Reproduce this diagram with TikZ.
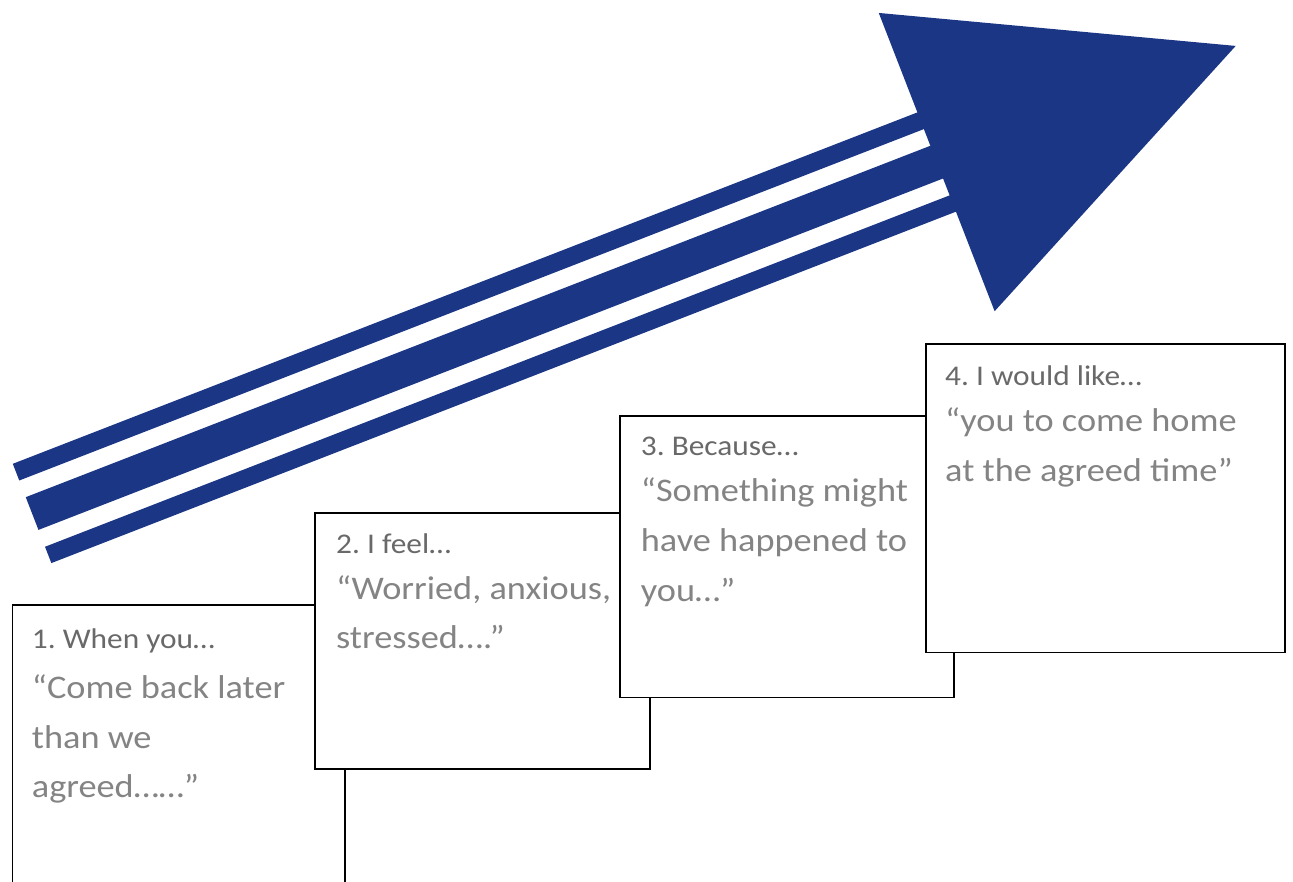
\documentclass[tikz,border=0pt]{standalone}
\usepackage{fontspec}
\setmainfont{Carlito}[FakeStretch=1.1]
\usetikzlibrary{calc}
\definecolor{arrowblue}{RGB}{27,54,133}
\definecolor{headgray}{RGB}{105,105,105}
\definecolor{bodygray}{RGB}{132,132,132}
\begin{document}
\frenchspacing
\begin{tikzpicture}[x=1pt,y=-1pt,
  box/.style={draw=black, line width=1.6pt, fill=white, anchor=north west, inner sep=0pt},
  head/.style={anchor=base west, inner sep=0pt, text=headgray, font=\fontsize{28.5}{32}\selectfont},
  body/.style={anchor=base west, inner sep=0pt, text=bodygray, font=\fontsize{33}{36}\selectfont},
  stripe/.style={fill=arrowblue, draw=none}
]
\clip (0,0) rectangle (1293,881);
\path[use as bounding box] (0,0) rectangle (1293,881);

% arrow
\begin{scope}[shift={(177.5,457)}, rotate=21.23]
  \path[stripe] (-156,-53.3) rectangle (815,-35.4);
  \path[stripe] (-156,-17.5) rectangle (815,17.6);
  \path[stripe] (-156,35.7) rectangle (815,53.2);
  \path[stripe] (814.5,-160) -- (1135.3,0) -- (814.5,160) -- cycle;
\end{scope}

% box 1
\node[box, minimum width=332.6pt, minimum height=300pt] (b1) at (11.7,604.3) {};
\node[head] (h1) at ($(b1.north west)+(20,44)$) {1. When you…};
\node[body] (t1a) at ($(b1.north west)+(20,94)$) {“Come back later};
\node[body] (t1b) at ($(b1.north west)+(20,144)$) {than we};
\node[body] (t1c) at ($(b1.north west)+(20,193)$) {agreed……”};

% box 2
\node[box, minimum width=334.7pt, minimum height=256pt] (b2) at (314.3,512.3) {};
\node[head] (h2) at ($(b2.north west)+(21.7,41)$) {2. I feel…};
\node[body] (t2a) at ($(b2.north west)+(21.7,87)$) {“Worried, anxious,};
\node[body] (t2b) at ($(b2.north west)+(21.7,136)$) {stressed….”};

% box 3
\node[box, minimum width=334.3pt, minimum height=281.7pt] (b3) at (619,415) {};
\node[head] (h3) at ($(b3.north west)+(21.7,40)$) {3. Because…};
\node[body] (t3a) at ($(b3.north west)+(21.7,86.7)$) {“Something might};
\node[body] (t3b) at ($(b3.north west)+(21.7,136.7)$) {have happened to};
\node[body] (t3c) at ($(b3.north west)+(21.7,186.7)$) {you…”};

% box 4
\node[box, minimum width=359pt, minimum height=308.4pt] (b4) at (925,343.3) {};
\node[head] (h4) at ($(b4.north west)+(20,41.7)$) {4. I would like…};
\node[body] (t4a) at ($(b4.north west)+(20,88.4)$) {“you to come home};
\node[body] (t4b) at ($(b4.north west)+(20,138.4)$) {at the agreed time”};
\end{tikzpicture}
\end{document}
